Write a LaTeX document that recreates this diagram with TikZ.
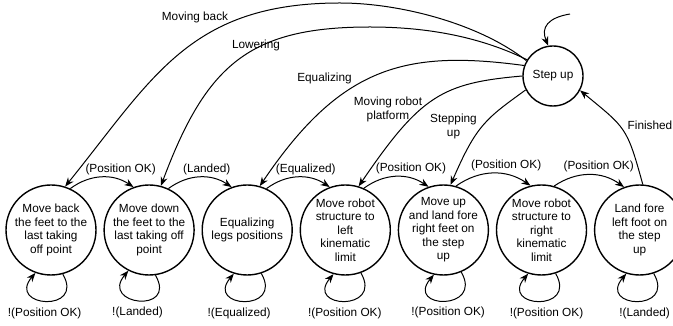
\documentclass[tikz,border=0pt]{standalone}
\usepackage{fontspec}
\setmainfont{Liberation Sans}
\usetikzlibrary{positioning, arrows.meta}

\begin{document}
\begin{tikzpicture}[
        x=1pt, y=1pt,
        node distance=6.7pt,
        state/.style={circle, draw, line width=1.4pt, minimum size=90pt, inner sep=0pt},
        every label/.style={align=center, font=\fontsize{11.8}{13.5}\selectfont},
        lbl/.style={align=center, font=\fontsize{11.8}{13.5}\selectfont, inner sep=2pt},
        arrow/.style={-{Stealth[length=9pt, width=7pt]}, line width=1pt},
    ]
    \useasboundingbox (0,0) rectangle (673,326);

    % ===== Top state =====
    \node[state, minimum size=60pt, label=center:Step up] (UP) at (553,250) {};

    % ===== Bottom row of states =====
    \node[state, label=center:{Move back\\the feet to the\\last taking\\off point}] (BACK) at (51,96) {};
    \node[state, right=of BACK, label=center:{Move down\\the feet to the\\last taking off\\point}] (DOWN) {};
    \node[state, right=of DOWN, label=center:{Equalizing\\legs positions}] (EQL) {};
    \node[state, right=of EQL, label=center:{Move robot\\structure to\\left\\kinematic\\limit}] (SHL) {};
    \node[state, right=of SHL, label=center:{Move up\\and land fore\\right feet on\\the step\\up}] (FRT) {};
    \node[state, right=of FRT, label=center:{Move robot\\structure to\\right\\kinematic\\limit}] (SHR) {};
    \node[state, right=of SHR, label=center:{Land fore\\left foot on\\the step\\up}] (FLT) {};

    % ===== Transitions from Step up =====
    \coordinate (TOPA) at (340,323);
    \coordinate (TOPB) at (370,299);
    \draw[arrow] (UP.150) .. controls +(-47,37) and +(60,0) .. (TOPA)
                          .. controls +(-150,0) and +(88,109) .. (BACK.72);
    \draw[arrow] (UP.148) .. controls +(-45,22) and +(60,0) .. (TOPB)
                          .. controls +(-120,0) and +(45.5,122) .. (DOWN.75);
    \draw[arrow] (UP.160) .. controls +(-119,16) and +(81,120) .. (EQL.74);
    \draw[arrow] (UP.180) .. controls +(-80,-7) and +(62,91) .. (SHL.73);
    \draw[arrow] (UP.207) .. controls +(-40,-29) and +(26,60) .. (FRT.81);
    \draw[arrow] (FLT.86) .. controls +(-16,58) and +(46,-38) .. (UP.-28);

    \node[lbl] (LMB) at (195,309) {Moving back};
    \node[lbl] (LLW) at (256,281) {Lowering};
    \node[lbl] (LEQ) at (324.5,248) {Equalizing};
    \node[lbl] (LMR) at (388,216.5) {Moving robot\\platform};
    \node[lbl] (LSU) at (453.5,199.5) {Stepping\\up};
    \node[lbl] (LFN) at (650,201) {Finished};

    % ===== Self loop of Step up =====
    \coordinate (LOOPS) at (570,312);
    \draw[arrow] (LOOPS) .. controls +(-22,-3.7) and +(-7.6,18.4) .. (UP.99);

    % ===== Transitions along the row =====
    \foreach \a/\b/\sa/\eb/\txt/\dx in {
        BACK/DOWN/65/110/(Position OK)/19,
        DOWN/EQL/65/110/(Landed)/7,
        EQL/SHL/65/110/(Equalized)/8,
        SHL/FRT/66/109/(Position OK)/15,
        FRT/SHR/74/104/(Position OK)/13,
        SHR/FLT/74/110/(Position OK)/9.5%
    } {
        \draw[arrow] (\a.\sa) to[bend left=35] node[midway, above, xshift=\dx pt, lbl] {\txt} (\b.\eb);
    }

    % ===== Self loops of the row =====
    \foreach \n/\s/\e/\txt/\dx in {
        BACK/-75/-110/!(Position OK)/-2,
        DOWN/-82/-117/!(Landed)/-2,
        EQL/-72/-107/!(Equalized)/-6,
        SHL/-70/-105/!(Position OK)/0,
        FRT/-67/-102/!(Position OK)/3,
        SHR/-72/-107/!(Position OK)/7,
        FLT/-72/-107/!(Landed)/7%
    } {
        \draw[arrow] (\n.\s) .. controls +(-60:45) and +(-130:45) .. node[pos=0.5, below=4pt, xshift=\dx pt, lbl] {\txt} (\n.\e);
    }

\end{tikzpicture}
\end{document}
